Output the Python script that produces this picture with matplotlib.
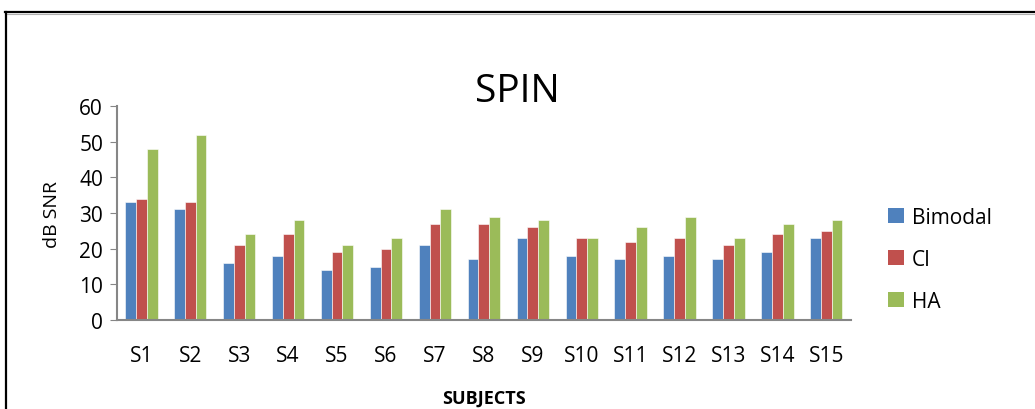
import matplotlib
matplotlib.use('Agg')
import matplotlib.pyplot as plt
from matplotlib.lines import Line2D
from matplotlib.patches import Patch
import numpy as np

plt.rcParams['font.family'] = ['Open Sans', 'DejaVu Sans']

subjects = ['S1', 'S2', 'S3', 'S4', 'S5', 'S6', 'S7', 'S8', 'S9', 'S10',
            'S11', 'S12', 'S13', 'S14', 'S15']
bimodal = [33, 31, 16, 18, 14, 15, 21, 17, 23, 18, 17, 18, 17, 19, 23]
ci = [34, 33, 21, 24, 19, 20, 27, 27, 26, 23, 22, 23, 21, 24, 25]
ha = [48, 52, 24, 28, 21, 23, 31, 29, 28, 23, 26, 29, 23, 27, 28]

series = [('Bimodal', bimodal, '#4F81BD'),
          ('CI', ci, '#C0504D'),
          ('HA', ha, '#9BBB59')]

fig = plt.figure(figsize=(10.35, 4.10), dpi=100)
ax = fig.add_axes([0.113, 0.217, 0.709, 0.522])

x = np.arange(len(subjects))
w = 0.22
for i, (name, vals, col) in enumerate(series):
    ax.bar(x + (i - 1) * w, vals, width=w, color=col, edgecolor='white',
           linewidth=0.4, label=name)

ax.set_xlim(-0.5, len(subjects) - 0.5)
ax.set_ylim(0, 60)
ax.set_yticks(range(0, 61, 10))
ax.set_xticks(x)
ax.set_xticklabels(subjects)
ax.tick_params(axis='y', direction='out', length=5, color='#868686',
               labelsize=15, pad=5)
ax.tick_params(axis='x', length=0, labelsize=15, pad=18)

for side in ['top', 'right']:
    ax.spines[side].set_visible(False)
for side in ['left', 'bottom']:
    ax.spines[side].set_color('#868686')
    ax.spines[side].set_linewidth(1.5)

ax.set_ylabel('dB SNR', fontsize=14, labelpad=13)
ax.set_xlabel('SUBJECTS', fontsize=13, fontweight='bold', labelpad=16)
fig.text(0.5, 0.775, 'SPIN', fontsize=28, ha='center', va='center')

handles = [Patch(facecolor=c, edgecolor='none') for _, _, c in series]
fig.legend(handles, [n for n, _, _ in series], loc='center left',
           bbox_to_anchor=(0.84, 0.365), frameon=False, fontsize=15,
           handlelength=0.75, handleheight=0.75, handletextpad=0.4,
           labelspacing=1.0)

# outer chart frame
fig.add_artist(Line2D([0.005, 1.0], [0.968, 0.968], color='black', lw=1.6))
fig.add_artist(Line2D([0.005, 1.0], [0.963, 0.963], color='#b0b0b0', lw=0.8))
fig.add_artist(Line2D([0.0055, 0.0055], [0.0, 0.968], color='black', lw=1.6))

fig.savefig('out.png', dpi=100)
